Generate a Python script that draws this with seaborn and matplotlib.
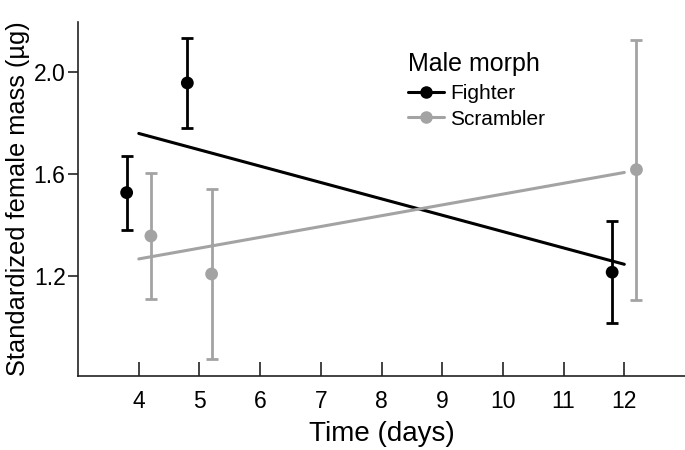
import matplotlib
matplotlib.use("Agg")
import matplotlib.pyplot as plt
from matplotlib.lines import Line2D
import seaborn as sns
import pandas as pd

# group means with error bars
morphs = ["Fighter", "Fighter", "Fighter", "Scrambler", "Scrambler", "Scrambler"]
days = [3.8, 4.8, 11.8, 4.2, 5.2, 12.2]
mass = [1.528, 1.958, 1.216, 1.358, 1.209, 1.618]
err = [0.145, 0.177, 0.199, 0.248, 0.333, 0.51]

# fitted lines (value at day 4 and day 12)
fit_days = [4, 12]
fighter_fit = [1.76, 1.247]
scrambler_fit = [1.268, 1.607]

colors = {"Fighter": "#000000", "Scrambler": "#a3a3a3"}

df = pd.DataFrame({"morph": morphs, "day": days, "mass": mass, "err": err})
fits = pd.DataFrame({
    "morph": ["Fighter"] * 2 + ["Scrambler"] * 2,
    "day": fit_days * 2,
    "mass": fighter_fit + scrambler_fit,
})

sns.set_style("ticks")
plt.rcParams["font.family"] = ["Liberation Sans", "DejaVu Sans"]
plt.rcParams["text.color"] = "black"
plt.rcParams["axes.labelcolor"] = "black"

fig = plt.figure(figsize=(6.85, 4.5), dpi=100)
ax = fig.add_axes([0.114, 0.165, 0.886, 0.785])

sns.lineplot(data=fits, x="day", y="mass", hue="morph", palette=colors,
             linewidth=2.2, legend=False, ax=ax)

for m, sub in df.groupby("morph"):
    ax.errorbar(sub["day"], sub["mass"], yerr=sub["err"], fmt="none",
                ecolor=colors[m], elinewidth=2, capsize=4.5, capthick=2)

sns.scatterplot(data=df, x="day", y="mass", hue="morph", palette=colors,
                s=85, edgecolor="none", legend=False, ax=ax, zorder=3)

ax.set_xlim(3, 13)
ax.set_ylim(0.81, 2.195)
ax.set_xticks(range(4, 13))
ax.set_yticks([1.2, 1.6, 2.0])
ax.set_yticklabels(["1.2", "1.6", "2.0"])
ax.set_xlabel("Time (days)", fontsize=20, labelpad=6)
ax.set_ylabel("Standardized female mass (µg)", fontsize=18.3, labelpad=3)
ax.tick_params(axis="both", labelsize=16.5, width=1.2, color="#222222",
               labelcolor="black")
ax.tick_params(axis="x", direction="in", length=10, pad=10)
ax.tick_params(axis="y", direction="out", length=7, pad=2)
sns.despine(ax=ax)
for side in ["left", "bottom"]:
    ax.spines[side].set_linewidth(1.2)
    ax.spines[side].set_color("#222222")

handles = [Line2D([0], [0], color=colors[m], lw=2.2, marker="o", markersize=8)
           for m in ["Fighter", "Scrambler"]]
leg = ax.legend(handles, ["Fighter", "Scrambler"], title="Male morph",
                loc="upper left", bbox_to_anchor=(0.53, 0.94), frameon=False,
                fontsize=15, title_fontsize=18, handlelength=1.7,
                handletextpad=0.3, labelspacing=0.3, borderaxespad=0)
leg._legend_box.align = "left"
leg._legend_box.sep = 6

fig.savefig("out.png", dpi=100)
